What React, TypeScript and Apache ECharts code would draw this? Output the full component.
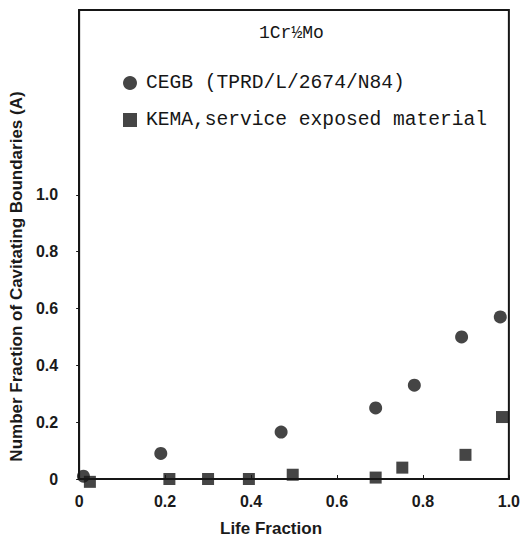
import React, { useEffect, useRef } from "react";
import * as echarts from "echarts";

const cegbX = [0.01, 0.19, 0.47, 0.69, 0.78, 0.89, 0.98];
const cegbY = [0.01, 0.09, 0.165, 0.25, 0.33, 0.5, 0.57];
const kemaX = [0.025, 0.21, 0.3, 0.395, 0.497, 0.69, 0.752, 0.899, 0.984];
const kemaY = [-0.01, 0.0, 0.0, 0.0, 0.015, 0.005, 0.04, 0.085, 0.218];
const yTicks = [0, 0.2, 0.4, 0.6, 0.8, 1.0];
const xTicks = [0, 0.2, 0.4, 0.6, 0.8, 1.0];
const seriesNames = ["CEGB (TPRD/L/2674/N84)", "KEMA,service exposed material"];
const titleText = "1Cr½Mo";
const xName = "Life Fraction";
const yName = "Number Fraction of Cavitating Boundaries (A)";

const fmt = (v: number) => (v === 0 ? "0" : v.toFixed(1));

export default function App() {
  const ref = useRef<HTMLDivElement>(null);
  useEffect(() => {
    if (!ref.current) return;
    const chart = echarts.init(ref.current, null, { renderer: "svg" });
    const ink = "#161616";
    const labelFont = { fontFamily: "Liberation Sans, Arial, sans-serif", fontWeight: "bold" as const, fontSize: 16, color: "#1a1a1a" };
    chart.setOption({
      animation: false,
      backgroundColor: "#ffffff",
      title: {
        text: titleText,
        left: 254,
        top: 19,
        textStyle: { fontFamily: "Liberation Mono, Courier New, monospace", fontWeight: "normal", fontSize: 18, color: ink },
      },
      legend: {
        orient: "vertical",
        left: 118,
        top: 68,
        itemWidth: 14,
        itemHeight: 14,
        itemGap: 17,
        data: [
          { name: seriesNames[0], icon: "circle" },
          { name: seriesNames[1], icon: "rect" },
        ],
        textStyle: { fontFamily: "Liberation Mono, Courier New, monospace", fontSize: 19.6, color: ink, padding: [0, 0, 0, 4] },
      },
      grid: { left: 79, right: 11, top: 10, bottom: 64, show: true, borderColor: ink, borderWidth: 2, backgroundColor: "transparent" },
      xAxis: {
        type: "value",
        min: 0,
        max: 1,
        interval: 0.2,
        name: xName,
        nameLocation: "middle",
        nameGap: 41,
        nameTextStyle: { ...labelFont, fontSize: 17, padding: [0, 46, 0, 0] },
        axisLine: { show: true, onZero: false, lineStyle: { color: ink, width: 2 } },
        axisTick: { show: true, inside: true, length: 4, lineStyle: { color: ink }, customValues: xTicks },
        axisLabel: { ...labelFont, margin: 14, formatter: fmt, customValues: xTicks },
        splitLine: { show: false },
      },
      yAxis: {
        type: "value",
        min: 0,
        max: 1.65,
        interval: 0.2,
        name: yName,
        nameLocation: "middle",
        nameGap: 44,
        nameTextStyle: { ...labelFont, fontSize: 17, padding: [0, 64, 0, 0] },
        axisLine: { show: true, lineStyle: { color: ink, width: 2 } },
        axisTick: { show: true, length: 3, lineStyle: { color: ink }, customValues: yTicks },
        axisLabel: { ...labelFont, margin: 21, formatter: fmt, customValues: yTicks },
        splitLine: { show: false },
      },
      series: [
        {
          name: seriesNames[0],
          type: "scatter",
          symbol: "circle",
          symbolSize: 13,
          clip: false,
          itemStyle: { color: ink },
          data: cegbX.map((x, i) => [x, cegbY[i]]),
        },
        {
          name: seriesNames[1],
          type: "scatter",
          symbol: "rect",
          symbolSize: 12,
          clip: false,
          itemStyle: { color: ink },
          data: kemaX.map((x, i) => [x, kemaY[i]]),
        },
      ],
    });
    return () => chart.dispose();
  }, []);
  return <div ref={ref} style={{ width: 523, height: 543, position: "absolute", left: 0, top: 0 }} />;
}
